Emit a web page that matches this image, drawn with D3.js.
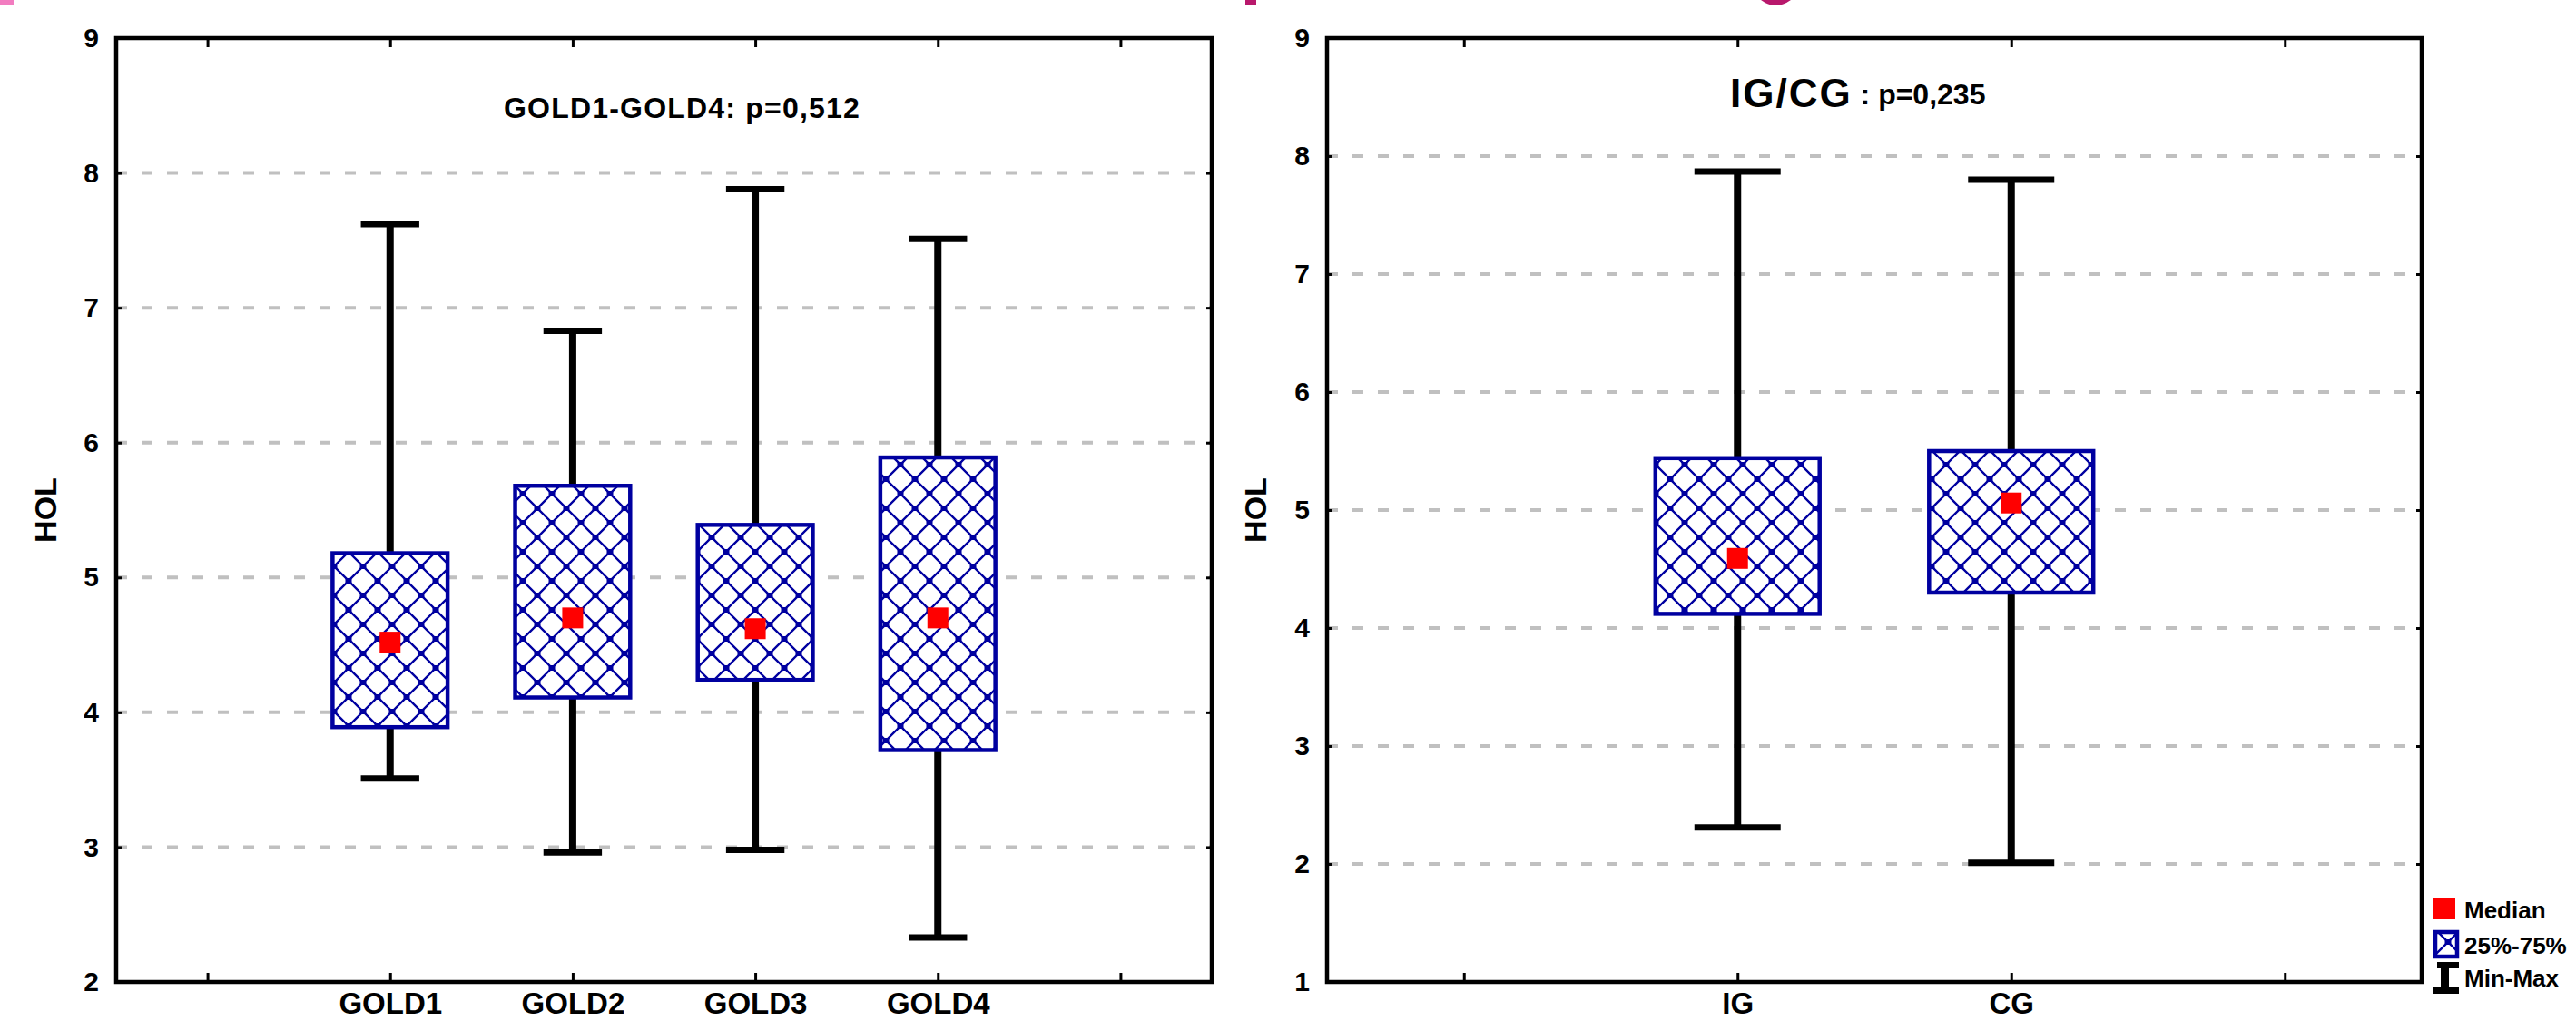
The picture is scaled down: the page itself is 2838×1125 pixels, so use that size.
<!DOCTYPE html>
<html>
<head>
<meta charset="utf-8">
<script src="https://cdn.jsdelivr.net/npm/d3@7"></script>
<style>
	body { margin: 0; background: #fff; }
	svg { display: block; font-family: "Liberation Sans", Arial, sans-serif; }
</style>
</head>
<body>
<div id="chart"></div>
<script>
//Left panel data: HOL by GOLD stage (min, quartiles, median, max)
var goldGroups = ["GOLD1", "GOLD2", "GOLD3", "GOLD4"];
var goldMin    = [3.51, 2.96, 2.98, 2.33];
var goldQ1     = [3.89, 4.11, 4.24, 3.72];
var goldMedian = [4.52, 4.70, 4.62, 4.70];
var goldQ3     = [5.18, 5.68, 5.39, 5.89];
var goldMax    = [7.62, 6.83, 7.88, 7.51];
var goldTicks  = [2, 3, 4, 5, 6, 7, 8, 9];

//Right panel data: HOL by group
var igGroups = ["IG", "CG"];
var igMin    = [2.31, 2.01];
var igQ1     = [4.12, 4.30];
var igMedian = [4.59, 5.06];
var igQ3     = [5.44, 5.50];
var igMax    = [7.87, 7.80];
var igTicks  = [1, 2, 3, 4, 5, 6, 7, 8, 9];

var legendLabels = ["Median", "25%-75%", "Min-Max"];

//Canvas
var W = 2838, H = 1125;
var blue = "#0000a0", red = "#ff0000", grid = "#c0c0c0";

var svg = d3.select("#chart").append("svg")
	.attr("width", W)
	.attr("height", H);

//Crosshatch fill for the boxes
var defs = svg.append("defs");
var hatch = defs.append("pattern").attr("id", "hatch")
	.attr("patternUnits", "userSpaceOnUse")
	.attr("width", 32).attr("height", 32);
hatch.append("rect").attr("width", 32).attr("height", 32).attr("fill", "#fff");
hatch.append("path").attr("d", "M0,0L32,32M32,0L0,32")
	.attr("stroke", blue).attr("stroke-width", 2.3).attr("fill", "none");
[[16, 16], [0, 0], [32, 0], [0, 32], [32, 32]].forEach(function(p) {
	hatch.append("rect").attr("x", p[0] - 3.5).attr("y", p[1] - 3)
		.attr("width", 7).attr("height", 6).attr("fill", blue);
});

//Bits of the cut-off heading above the charts
svg.append("rect").attr("x", 0).attr("y", 0).attr("width", 15).attr("height", 5).attr("fill", "#f27cc0");
svg.append("rect").attr("x", 1372).attr("y", 0).attr("width", 12).attr("height", 5).attr("fill", "#b8186c");
svg.append("path").attr("d", "M1940,0 Q1956,12 1973,0 Z").attr("fill", "#b8186c");

function drawPanel(o) {
	var g = svg.append("g");

	var x = d3.scalePoint()
		.domain(["_a"].concat(o.groups, ["_b"]))
		.range([o.x0, o.x1])
		.padding(0.5);
	var y = d3.scaleLinear()
		.domain([o.ticks[0], o.ticks[o.ticks.length - 1]])
		.range([o.y1, o.y0]);
	var step = x.step();
	var bw = step * o.boxRatio, cw = step * o.capRatio;

	//Dashed gridlines
	g.append("g").selectAll("line")
		.data(o.ticks.slice(1, -1))
		.enter().append("line")
		.attr("x1", o.x0).attr("x2", o.x1)
		.attr("y1", function(d) { return y(d); })
		.attr("y2", function(d) { return y(d); })
		.attr("stroke", grid).attr("stroke-width", 4)
		.attr("stroke-dasharray", "12,16");

	var items = o.groups.map(function(d, i) {
		return { k: d, min: o.min[i], q1: o.q1[i], med: o.med[i], q3: o.q3[i], max: o.max[i] };
	});

	var box = g.append("g").selectAll("g").data(items).enter().append("g");

	//Whiskers and caps
	box.append("line")
		.attr("x1", function(d) { return x(d.k); }).attr("x2", function(d) { return x(d.k); })
		.attr("y1", function(d) { return y(d.min); }).attr("y2", function(d) { return y(d.max); })
		.attr("stroke", "#000").attr("stroke-width", 8);
	["min", "max"].forEach(function(f) {
		box.append("line")
			.attr("x1", function(d) { return x(d.k) - cw / 2; })
			.attr("x2", function(d) { return x(d.k) + cw / 2; })
			.attr("y1", function(d) { return y(d[f]); })
			.attr("y2", function(d) { return y(d[f]); })
			.attr("stroke", "#000").attr("stroke-width", 7);
	});

	//Quartile boxes
	box.append("rect")
		.attr("x", function(d) { return x(d.k) - bw / 2; })
		.attr("y", function(d) { return y(d.q3); })
		.attr("width", bw)
		.attr("height", function(d) { return y(d.q1) - y(d.q3); })
		.attr("fill", "url(#hatch)")
		.attr("stroke", blue).attr("stroke-width", 4.5);

	//Median markers
	box.append("rect")
		.attr("x", function(d) { return x(d.k) - 11.5; })
		.attr("y", function(d) { return y(d.med) - 11.5; })
		.attr("width", 23).attr("height", 23)
		.attr("fill", red);

	//Frame
	g.append("rect")
		.attr("x", o.x0).attr("y", o.y0)
		.attr("width", o.x1 - o.x0).attr("height", o.y1 - o.y0)
		.attr("fill", "none").attr("stroke", "#000").attr("stroke-width", 4.5);

	//Axes (inward ticks)
	var fmt = function(d) { return d.charAt(0) === "_" ? "" : d; };
	var bottom = g.append("g").attr("transform", "translate(0," + o.y1 + ")")
		.call(d3.axisBottom(x).tickSizeInner(-10).tickSizeOuter(0).tickPadding(12).tickFormat(fmt));
	var top = g.append("g").attr("transform", "translate(0," + o.y0 + ")")
		.call(d3.axisTop(x).tickSizeInner(-10).tickSizeOuter(0).tickFormat(""));
	var left = g.append("g").attr("transform", "translate(" + o.x0 + ",0)")
		.call(d3.axisLeft(y).tickValues(o.ticks).tickSizeInner(-6).tickSizeOuter(0).tickPadding(19).tickFormat(d3.format("d")));
	var right = g.append("g").attr("transform", "translate(" + o.x1 + ",0)")
		.call(d3.axisRight(y).tickValues(o.ticks.slice(1, -1)).tickSizeInner(-6).tickSizeOuter(0).tickFormat(""));

	[bottom, top, left, right].forEach(function(a) {
		a.select(".domain").remove();
		a.selectAll(".tick line").attr("stroke", "#000").attr("stroke-width", 3);
		a.selectAll("text").attr("fill", "#000").attr("font-weight", "bold")
			.attr("font-family", "'Liberation Sans', Arial, sans-serif");
	});
	bottom.selectAll("text").attr("font-size", 33);
	left.selectAll("text").attr("font-size", 30);

	//Y axis title
	g.append("text")
		.attr("transform", "translate(" + o.labelX + "," + ((o.y0 + o.y1) / 2) + ") rotate(-90)")
		.attr("text-anchor", "middle")
		.attr("dominant-baseline", "central")
		.attr("font-size", 34).attr("font-weight", "bold")
		.text("HOL");
}

drawPanel({
	groups: goldGroups, min: goldMin, q1: goldQ1, med: goldMedian, q3: goldQ3, max: goldMax,
	ticks: goldTicks, x0: 128, x1: 1335, y0: 42, y1: 1082,
	boxRatio: 0.63, capRatio: 0.32, labelX: 50
});
drawPanel({
	groups: igGroups, min: igMin, q1: igQ1, med: igMedian, q3: igQ3, max: igMax,
	ticks: igTicks, x0: 1462, x1: 2668, y0: 42, y1: 1082,
	boxRatio: 0.6, capRatio: 0.315, labelX: 1383
});

//Panel titles
svg.append("text")
	.attr("x", 555).attr("y", 130)
	.attr("font-size", 32).attr("font-weight", "bold").attr("letter-spacing", 1.2)
	.text("GOLD1-GOLD4: p=0,512");

var t2 = svg.append("text").attr("x", 1906).attr("y", 118).attr("font-weight", "bold");
t2.append("tspan").attr("font-size", 44).attr("letter-spacing", 2).text("IG/CG");
t2.append("tspan").attr("font-size", 32).attr("dy", -3).text(" : p=0,235");

//Legend (squeezed so its labels fit inside the page edge)
var lg = svg.append("g").attr("transform", "translate(2681,990)");
lg.append("rect").attr("x", 0).attr("y", 0).attr("width", 24).attr("height", 23).attr("fill", red);
lg.append("rect").attr("x", 2).attr("y", 37).attr("width", 24).attr("height", 27)
	.attr("fill", "url(#hatch)").attr("stroke", blue).attr("stroke-width", 4.5);
lg.append("path")
	.attr("d", "M4,70H28V77H17V98H28V105H0V98H8V77H4Z")
	.attr("fill", "#000");
lg.selectAll("text.lab").data(legendLabels).enter().append("text")
	.attr("class", "lab")
	.attr("x", 34)
	.attr("y", function(d, i) { return [22, 61, 97][i]; })
	.attr("font-size", 26).attr("font-weight", "bold")
	.text(function(d) { return d; });
</script>
</body>
</html>
